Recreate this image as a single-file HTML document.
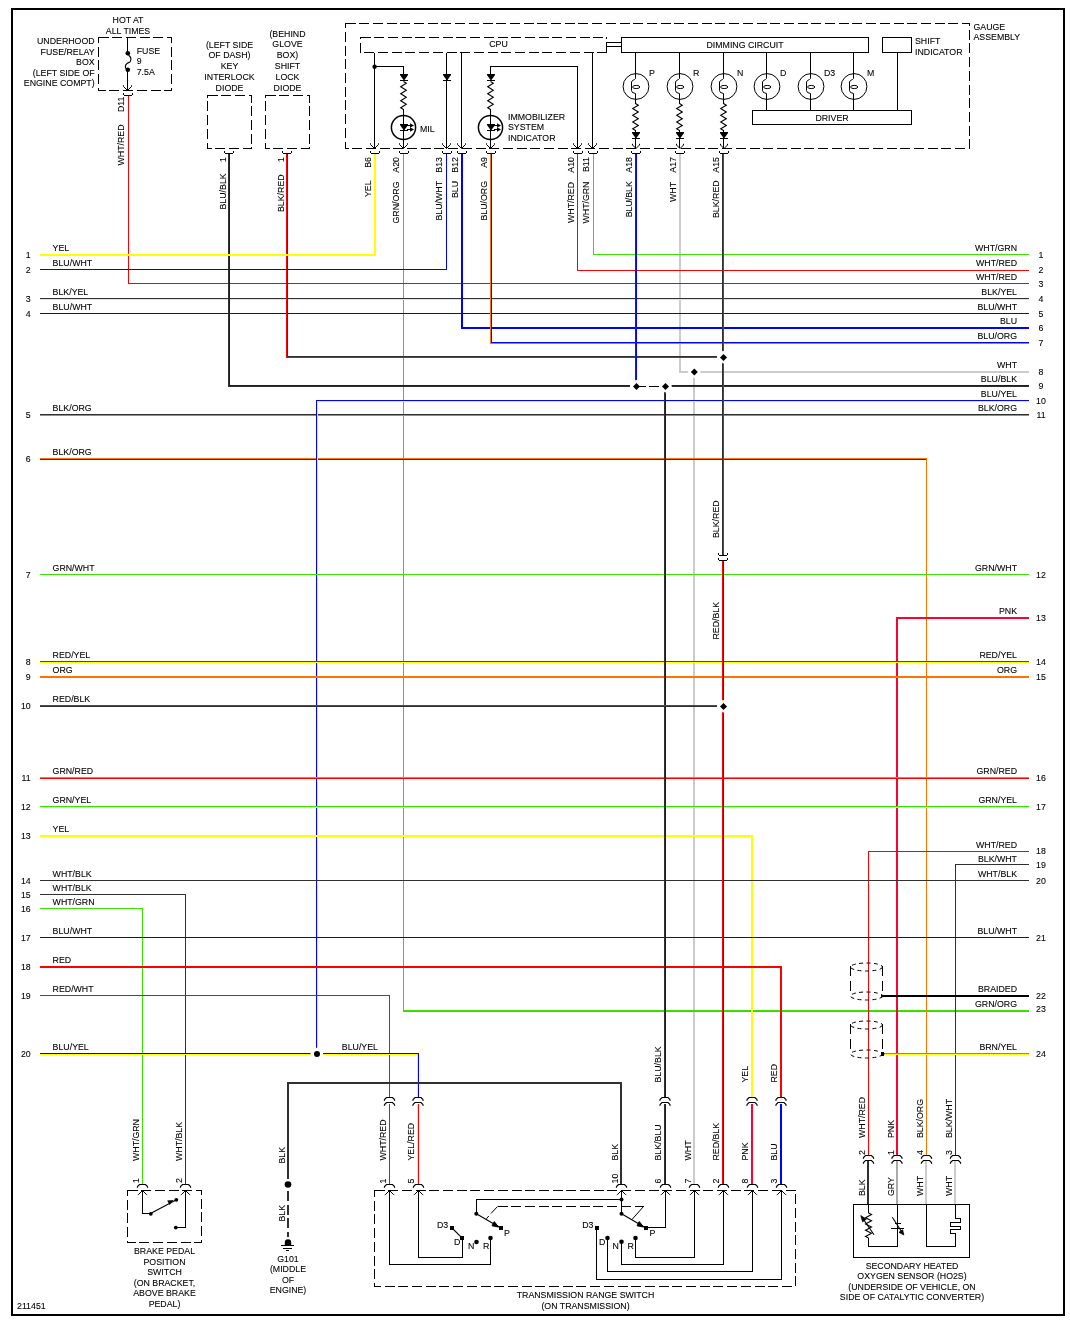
<!DOCTYPE html>
<html><head><meta charset="utf-8"><title>Wiring Diagram 211451</title>
<style>html,body{margin:0;padding:0;background:#fff}svg{display:block}text{font-family:"Liberation Sans",Arial,sans-serif;stroke:#000;stroke-width:0.1px}</style>
</head><body>
<svg width="1070" height="1326" viewBox="0 0 1070 1326" shape-rendering="crispEdges" font-family="'Liberation Sans', Arial, sans-serif" fill="#000">
<rect x="11" y="8" width="1054" height="2" fill="#000"/>
<rect x="11" y="1314" width="1054" height="2" fill="#000"/>
<rect x="11" y="8" width="2" height="1308" fill="#000"/>
<rect x="1063" y="8" width="2" height="1308" fill="#000"/>
<rect x="679" y="154" width="2" height="219" fill="#cccccc"/>
<rect x="679" y="371" width="350" height="2" fill="#cccccc"/>
<rect x="693" y="371" width="2" height="814" fill="#cccccc"/>
<rect x="403" y="154" width="1" height="857" fill="#ff7400"/>
<rect x="403" y="1011" width="626" height="1" fill="#ff7400"/>
<rect x="403" y="1010" width="626" height="1" fill="#38e400"/>
<rect x="40" y="299" width="989" height="1" fill="#ffff00"/>
<rect x="40" y="298" width="989" height="1" fill="#303030"/>
<rect x="40" y="313" width="989" height="1" fill="#0000ff"/>
<rect x="40" y="415" width="989" height="1" fill="#ff7400"/>
<rect x="40" y="414" width="989" height="1" fill="#303030"/>
<rect x="40" y="458" width="887" height="1" fill="#ff7400"/>
<rect x="40" y="459" width="886" height="1" fill="#333344"/>
<rect x="926" y="458" width="1" height="727" fill="#ff7400"/>
<rect x="317" y="401" width="712" height="1" fill="#ffff00"/>
<rect x="317" y="401" width="1" height="653" fill="#ffff00"/>
<rect x="316" y="400" width="713" height="1" fill="#0000ff"/>
<rect x="316" y="400" width="1" height="654" fill="#0000ff"/>
<rect x="40" y="574" width="989" height="1" fill="#38e400"/>
<rect x="896" y="617" width="133" height="2" fill="#ff0033"/>
<rect x="896" y="617" width="2" height="568" fill="#ff0033"/>
<rect x="40" y="662" width="989" height="1" fill="#ffff00"/>
<rect x="40" y="661" width="989" height="1" fill="#ff0000"/>
<rect x="40" y="676" width="989" height="2" fill="#ff7400"/>
<rect x="40" y="778" width="989" height="1" fill="#ff0000"/>
<rect x="40" y="777" width="989" height="1" fill="#38e400"/>
<rect x="40" y="807" width="989" height="1" fill="#ffff00"/>
<rect x="40" y="806" width="989" height="1" fill="#38e400"/>
<rect x="40" y="835" width="713" height="2" fill="#ffff00"/>
<rect x="751" y="835" width="2" height="262" fill="#ffff00"/>
<rect x="868" y="851" width="161" height="1" fill="#ff0000"/>
<rect x="868" y="851" width="1" height="334" fill="#ff0000"/>
<rect x="955" y="864" width="74" height="1" fill="#303030"/>
<rect x="955" y="864" width="1" height="321" fill="#303030"/>
<rect x="40" y="880" width="989" height="1" fill="#303030"/>
<rect x="40" y="894" width="146" height="1" fill="#303030"/>
<rect x="185" y="894" width="1" height="291" fill="#303030"/>
<rect x="40" y="908" width="103" height="1" fill="#38e400"/>
<rect x="142" y="908" width="1" height="277" fill="#38e400"/>
<rect x="40" y="937" width="989" height="1" fill="#0000ff"/>
<rect x="40" y="966" width="742" height="2" fill="#ff0000"/>
<rect x="780" y="966" width="2" height="131" fill="#ff0000"/>
<rect x="40" y="995" width="350" height="1" fill="#ff0000"/>
<rect x="389" y="995" width="1" height="102" fill="#ff0000"/>
<rect x="883" y="995" width="146" height="2" fill="#000"/>
<rect x="884" y="1054" width="145" height="1" fill="#ffff00"/>
<rect x="884" y="1053" width="145" height="1" fill="#b8860b"/>
<rect x="881" y="1052" width="3" height="4" fill="#000"/>
<rect x="40" y="1054" width="378" height="1" fill="#ffff00"/>
<rect x="417" y="1054" width="1" height="43" fill="#ffff00"/>
<rect x="40" y="1053" width="379" height="1" fill="#0000ff"/>
<rect x="418" y="1053" width="1" height="44" fill="#0000ff"/>
<rect x="620" y="1082" width="2" height="103" fill="#303030"/>
<rect x="287" y="1082" width="335" height="2" fill="#303030"/>
<rect x="287" y="1082" width="2" height="97" fill="#303030"/>
<rect x="128" y="96" width="1" height="188" fill="#ff0000"/>
<rect x="128" y="283" width="901" height="1" fill="#ff0000"/>
<rect x="228" y="154" width="1" height="233" fill="#303030"/>
<rect x="228" y="386" width="402" height="1" fill="#303030"/>
<rect x="229" y="154" width="1" height="232" fill="#0000ff"/>
<rect x="229" y="385" width="401" height="1" fill="#0000ff"/>
<rect x="671" y="386" width="358" height="1" fill="#303030"/>
<rect x="671" y="385" width="358" height="1" fill="#0000ff"/>
<rect x="286" y="154" width="1" height="204" fill="#ff0000"/>
<rect x="286" y="357" width="431" height="1" fill="#ff0000"/>
<rect x="287" y="154" width="1" height="203" fill="#303030"/>
<rect x="287" y="356" width="430" height="1" fill="#303030"/>
<rect x="374" y="154" width="2" height="102" fill="#ffff00"/>
<rect x="40" y="254" width="336" height="2" fill="#ffff00"/>
<rect x="446" y="154" width="1" height="116" fill="#0000ff"/>
<rect x="40" y="269" width="407" height="1" fill="#0000ff"/>
<rect x="461" y="154" width="2" height="175" fill="#0000ff"/>
<rect x="461" y="327" width="568" height="2" fill="#0000ff"/>
<rect x="490" y="154" width="1" height="190" fill="#ff7400"/>
<rect x="490" y="343" width="539" height="1" fill="#ff7400"/>
<rect x="491" y="154" width="1" height="189" fill="#0000ff"/>
<rect x="491" y="342" width="538" height="1" fill="#0000ff"/>
<rect x="577" y="154" width="1" height="117" fill="#ff0000"/>
<rect x="577" y="270" width="452" height="1" fill="#ff0000"/>
<rect x="593" y="154" width="1" height="101" fill="#38e400"/>
<rect x="593" y="254" width="436" height="1" fill="#38e400"/>
<rect x="635" y="154" width="1" height="227" fill="#303030"/>
<rect x="636" y="154" width="1" height="227" fill="#0000ff"/>
<rect x="664" y="392" width="1" height="705" fill="#303030"/>
<rect x="665" y="392" width="1" height="705" fill="#0000ff"/>
<rect x="664" y="1104" width="1" height="81" fill="#303030"/>
<rect x="665" y="1104" width="1" height="81" fill="#0000ff"/>
<rect x="723" y="154" width="1" height="401" fill="#ff0000"/>
<rect x="722" y="154" width="1" height="401" fill="#303030"/>
<rect x="723" y="561" width="1" height="624" fill="#303030"/>
<rect x="722" y="561" width="1" height="624" fill="#ff0000"/>
<rect x="40" y="706" width="677" height="1" fill="#303030"/>
<rect x="40" y="705" width="677" height="1" fill="#ff0000"/>
<rect x="389" y="1104" width="1" height="81" fill="#ff0000"/>
<rect x="418" y="1104" width="1" height="81" fill="#ff0000"/>
<rect x="417" y="1104" width="1" height="81" fill="#ffff00"/>
<rect x="751" y="1104" width="2" height="81" fill="#ff0033"/>
<rect x="780" y="1104" width="2" height="81" fill="#0000ff"/>
<circle cx="636.5" cy="386.2" r="6.2" fill="#fff" shape-rendering="auto"/>
<path d="M633 386.5L636.5 383L640 386.5L636.5 390Z" fill="#000" shape-rendering="auto"/>
<circle cx="665.5" cy="386.2" r="6.2" fill="#fff" shape-rendering="auto"/>
<path d="M662 386.5L665.5 383L669 386.5L665.5 390Z" fill="#000" shape-rendering="auto"/>
<circle cx="694.3" cy="371.7" r="6.2" fill="#fff" shape-rendering="auto"/>
<path d="M690.8 372L694.3 368.5L697.8 372L694.3 375.5Z" fill="#000" shape-rendering="auto"/>
<circle cx="723.5" cy="357.2" r="6.2" fill="#fff" shape-rendering="auto"/>
<path d="M720 357.5L723.5 354L727 357.5L723.5 361Z" fill="#000" shape-rendering="auto"/>
<circle cx="723.5" cy="706.2" r="6.2" fill="#fff" shape-rendering="auto"/>
<path d="M720 706.5L723.5 703L727 706.5L723.5 710Z" fill="#000" shape-rendering="auto"/>
<rect x="639" y="386" width="7" height="1" fill="#000"/>
<rect x="649" y="386" width="10" height="1" fill="#000"/>
<circle cx="316.8" cy="1054" r="6.3" fill="#fff" shape-rendering="auto"/>
<circle cx="317" cy="1054" r="3" fill="#000" shape-rendering="auto"/>
<text transform="translate(30.7 257.5) scale(0.926 1)" text-anchor="end" font-size="9.5">1</text>
<text transform="translate(52.6 251) scale(0.926 1)" text-anchor="start" font-size="9.5">YEL</text>
<text transform="translate(30.7 272.5) scale(0.926 1)" text-anchor="end" font-size="9.5">2</text>
<text transform="translate(52.6 266) scale(0.926 1)" text-anchor="start" font-size="9.5">BLU/WHT</text>
<text transform="translate(30.7 301.5) scale(0.926 1)" text-anchor="end" font-size="9.5">3</text>
<text transform="translate(52.6 295) scale(0.926 1)" text-anchor="start" font-size="9.5">BLK/YEL</text>
<text transform="translate(30.7 316.5) scale(0.926 1)" text-anchor="end" font-size="9.5">4</text>
<text transform="translate(52.6 310) scale(0.926 1)" text-anchor="start" font-size="9.5">BLU/WHT</text>
<text transform="translate(30.7 417.5) scale(0.926 1)" text-anchor="end" font-size="9.5">5</text>
<text transform="translate(52.6 411) scale(0.926 1)" text-anchor="start" font-size="9.5">BLK/ORG</text>
<text transform="translate(30.7 461.5) scale(0.926 1)" text-anchor="end" font-size="9.5">6</text>
<text transform="translate(52.6 455) scale(0.926 1)" text-anchor="start" font-size="9.5">BLK/ORG</text>
<text transform="translate(30.7 577.5) scale(0.926 1)" text-anchor="end" font-size="9.5">7</text>
<text transform="translate(52.6 571) scale(0.926 1)" text-anchor="start" font-size="9.5">GRN/WHT</text>
<text transform="translate(30.7 664.5) scale(0.926 1)" text-anchor="end" font-size="9.5">8</text>
<text transform="translate(52.6 658) scale(0.926 1)" text-anchor="start" font-size="9.5">RED/YEL</text>
<text transform="translate(30.7 679.5) scale(0.926 1)" text-anchor="end" font-size="9.5">9</text>
<text transform="translate(52.6 673) scale(0.926 1)" text-anchor="start" font-size="9.5">ORG</text>
<text transform="translate(30.7 708.5) scale(0.926 1)" text-anchor="end" font-size="9.5">10</text>
<text transform="translate(52.6 702) scale(0.926 1)" text-anchor="start" font-size="9.5">RED/BLK</text>
<text transform="translate(30.7 780.5) scale(0.926 1)" text-anchor="end" font-size="9.5">11</text>
<text transform="translate(52.6 774) scale(0.926 1)" text-anchor="start" font-size="9.5">GRN/RED</text>
<text transform="translate(30.7 809.5) scale(0.926 1)" text-anchor="end" font-size="9.5">12</text>
<text transform="translate(52.6 803) scale(0.926 1)" text-anchor="start" font-size="9.5">GRN/YEL</text>
<text transform="translate(30.7 838.5) scale(0.926 1)" text-anchor="end" font-size="9.5">13</text>
<text transform="translate(52.6 832) scale(0.926 1)" text-anchor="start" font-size="9.5">YEL</text>
<text transform="translate(30.7 883.5) scale(0.926 1)" text-anchor="end" font-size="9.5">14</text>
<text transform="translate(52.6 877) scale(0.926 1)" text-anchor="start" font-size="9.5">WHT/BLK</text>
<text transform="translate(30.7 897.5) scale(0.926 1)" text-anchor="end" font-size="9.5">15</text>
<text transform="translate(52.6 891) scale(0.926 1)" text-anchor="start" font-size="9.5">WHT/BLK</text>
<text transform="translate(30.7 911.5) scale(0.926 1)" text-anchor="end" font-size="9.5">16</text>
<text transform="translate(52.6 905) scale(0.926 1)" text-anchor="start" font-size="9.5">WHT/GRN</text>
<text transform="translate(30.7 940.5) scale(0.926 1)" text-anchor="end" font-size="9.5">17</text>
<text transform="translate(52.6 934) scale(0.926 1)" text-anchor="start" font-size="9.5">BLU/WHT</text>
<text transform="translate(30.7 969.5) scale(0.926 1)" text-anchor="end" font-size="9.5">18</text>
<text transform="translate(52.6 963) scale(0.926 1)" text-anchor="start" font-size="9.5">RED</text>
<text transform="translate(30.7 998.5) scale(0.926 1)" text-anchor="end" font-size="9.5">19</text>
<text transform="translate(52.6 992) scale(0.926 1)" text-anchor="start" font-size="9.5">RED/WHT</text>
<text transform="translate(30.7 1056.5) scale(0.926 1)" text-anchor="end" font-size="9.5">20</text>
<text transform="translate(52.6 1050) scale(0.926 1)" text-anchor="start" font-size="9.5">BLU/YEL</text>
<text transform="translate(1041 257.5) scale(0.926 1)" text-anchor="middle" font-size="9.5">1</text>
<text transform="translate(1017 251) scale(0.926 1)" text-anchor="end" font-size="9.5">WHT/GRN</text>
<text transform="translate(1041 272.5) scale(0.926 1)" text-anchor="middle" font-size="9.5">2</text>
<text transform="translate(1017 266) scale(0.926 1)" text-anchor="end" font-size="9.5">WHT/RED</text>
<text transform="translate(1041 286.5) scale(0.926 1)" text-anchor="middle" font-size="9.5">3</text>
<text transform="translate(1017 280) scale(0.926 1)" text-anchor="end" font-size="9.5">WHT/RED</text>
<text transform="translate(1041 301.5) scale(0.926 1)" text-anchor="middle" font-size="9.5">4</text>
<text transform="translate(1017 295) scale(0.926 1)" text-anchor="end" font-size="9.5">BLK/YEL</text>
<text transform="translate(1041 316.5) scale(0.926 1)" text-anchor="middle" font-size="9.5">5</text>
<text transform="translate(1017 310) scale(0.926 1)" text-anchor="end" font-size="9.5">BLU/WHT</text>
<text transform="translate(1041 330.5) scale(0.926 1)" text-anchor="middle" font-size="9.5">6</text>
<text transform="translate(1017 324) scale(0.926 1)" text-anchor="end" font-size="9.5">BLU</text>
<text transform="translate(1041 345.5) scale(0.926 1)" text-anchor="middle" font-size="9.5">7</text>
<text transform="translate(1017 339) scale(0.926 1)" text-anchor="end" font-size="9.5">BLU/ORG</text>
<text transform="translate(1041 374.5) scale(0.926 1)" text-anchor="middle" font-size="9.5">8</text>
<text transform="translate(1017 368) scale(0.926 1)" text-anchor="end" font-size="9.5">WHT</text>
<text transform="translate(1041 388.5) scale(0.926 1)" text-anchor="middle" font-size="9.5">9</text>
<text transform="translate(1017 382) scale(0.926 1)" text-anchor="end" font-size="9.5">BLU/BLK</text>
<text transform="translate(1041 403.5) scale(0.926 1)" text-anchor="middle" font-size="9.5">10</text>
<text transform="translate(1017 397) scale(0.926 1)" text-anchor="end" font-size="9.5">BLU/YEL</text>
<text transform="translate(1041 417.5) scale(0.926 1)" text-anchor="middle" font-size="9.5">11</text>
<text transform="translate(1017 411) scale(0.926 1)" text-anchor="end" font-size="9.5">BLK/ORG</text>
<text transform="translate(1041 577.5) scale(0.926 1)" text-anchor="middle" font-size="9.5">12</text>
<text transform="translate(1017 571) scale(0.926 1)" text-anchor="end" font-size="9.5">GRN/WHT</text>
<text transform="translate(1041 620.5) scale(0.926 1)" text-anchor="middle" font-size="9.5">13</text>
<text transform="translate(1017 614) scale(0.926 1)" text-anchor="end" font-size="9.5">PNK</text>
<text transform="translate(1041 664.5) scale(0.926 1)" text-anchor="middle" font-size="9.5">14</text>
<text transform="translate(1017 658) scale(0.926 1)" text-anchor="end" font-size="9.5">RED/YEL</text>
<text transform="translate(1041 679.5) scale(0.926 1)" text-anchor="middle" font-size="9.5">15</text>
<text transform="translate(1017 673) scale(0.926 1)" text-anchor="end" font-size="9.5">ORG</text>
<text transform="translate(1041 780.5) scale(0.926 1)" text-anchor="middle" font-size="9.5">16</text>
<text transform="translate(1017 774) scale(0.926 1)" text-anchor="end" font-size="9.5">GRN/RED</text>
<text transform="translate(1041 809.5) scale(0.926 1)" text-anchor="middle" font-size="9.5">17</text>
<text transform="translate(1017 803) scale(0.926 1)" text-anchor="end" font-size="9.5">GRN/YEL</text>
<text transform="translate(1041 854) scale(0.926 1)" text-anchor="middle" font-size="9.5">18</text>
<text transform="translate(1017 847.5) scale(0.926 1)" text-anchor="end" font-size="9.5">WHT/RED</text>
<text transform="translate(1041 868) scale(0.926 1)" text-anchor="middle" font-size="9.5">19</text>
<text transform="translate(1017 861.5) scale(0.926 1)" text-anchor="end" font-size="9.5">BLK/WHT</text>
<text transform="translate(1041 883.5) scale(0.926 1)" text-anchor="middle" font-size="9.5">20</text>
<text transform="translate(1017 877) scale(0.926 1)" text-anchor="end" font-size="9.5">WHT/BLK</text>
<text transform="translate(1041 940.5) scale(0.926 1)" text-anchor="middle" font-size="9.5">21</text>
<text transform="translate(1017 934) scale(0.926 1)" text-anchor="end" font-size="9.5">BLU/WHT</text>
<text transform="translate(1041 998.5) scale(0.926 1)" text-anchor="middle" font-size="9.5">22</text>
<text transform="translate(1017 992) scale(0.926 1)" text-anchor="end" font-size="9.5">BRAIDED</text>
<text transform="translate(1041 1012.2) scale(0.926 1)" text-anchor="middle" font-size="9.5">23</text>
<text transform="translate(1017 1007) scale(0.926 1)" text-anchor="end" font-size="9.5">GRN/ORG</text>
<text transform="translate(1041 1056.5) scale(0.926 1)" text-anchor="middle" font-size="9.5">24</text>
<text transform="translate(1017 1050) scale(0.926 1)" text-anchor="end" font-size="9.5">BRN/YEL</text>
<text transform="translate(341.8 1050.3) scale(0.926 1)" text-anchor="start" font-size="9.5">BLU/YEL</text>
<text transform="translate(17 1309) scale(0.926 1)" text-anchor="start" font-size="9.5">211451</text>
<path d="M98.5 37.5H171.5V90.5H98.5Z" fill="none" stroke="#000" stroke-width="1" stroke-dasharray="10 3.7" stroke-dashoffset="0"/>
<rect x="127" y="38" width="1" height="15" fill="#000"/>
<rect x="127" y="70" width="1" height="20" fill="#000"/>
<circle cx="127.8" cy="53.2" r="2.3" fill="#000" shape-rendering="auto"/>
<circle cx="127.8" cy="69.8" r="2.3" fill="#000" shape-rendering="auto"/>
<path d="M128.5 55 Q132.5 58 130 62 Q126 63.5 125.5 65.5 Q124.8 68 127 69.5" stroke="#000" stroke-width="1.1" fill="none" shape-rendering="auto"/>
<path d="M123.5 85.3V86.5L127.5 90.5L131.5 86.5V85.3" stroke="#000" stroke-width="1" fill="none" shape-rendering="auto"/>
<rect x="123" y="93" width="1" height="2" fill="#000"/>
<rect x="132" y="93" width="1" height="2" fill="#000"/>
<rect x="124" y="95" width="8" height="1" fill="#000"/>
<text transform="translate(128 22.6) scale(0.926 1)" text-anchor="middle" font-size="9.5">HOT AT</text>
<text transform="translate(128 33.8) scale(0.926 1)" text-anchor="middle" font-size="9.5">ALL TIMES</text>
<text transform="translate(94.6 44.2) scale(0.926 1)" text-anchor="end" font-size="9.5">UNDERHOOD</text>
<text transform="translate(94.6 54.75) scale(0.926 1)" text-anchor="end" font-size="9.5">FUSE/RELAY</text>
<text transform="translate(94.6 65.3) scale(0.926 1)" text-anchor="end" font-size="9.5">BOX</text>
<text transform="translate(94.6 75.85) scale(0.926 1)" text-anchor="end" font-size="9.5">(LEFT SIDE OF</text>
<text transform="translate(94.6 86.4) scale(0.926 1)" text-anchor="end" font-size="9.5">ENGINE COMPT)</text>
<text transform="translate(136.7 53.6) scale(0.926 1)" text-anchor="start" font-size="9.5">FUSE</text>
<text transform="translate(136.7 64.2) scale(0.926 1)" text-anchor="start" font-size="9.5">9</text>
<text transform="translate(136.7 74.8) scale(0.926 1)" text-anchor="start" font-size="9.5">7.5A</text>
<text transform="translate(124 112) rotate(-90) scale(0.926 1)" text-anchor="start" font-size="9.5">D11</text>
<text transform="translate(124 165.5) rotate(-90) scale(0.926 1)" text-anchor="start" font-size="9.5">WHT/RED</text>
<path d="M207.5 95.5H251.5V148.5H207.5Z" fill="none" stroke="#000" stroke-width="1" stroke-dasharray="10 3.7" stroke-dashoffset="0"/>
<path d="M265.5 95.5H309.5V148.5H265.5Z" fill="none" stroke="#000" stroke-width="1" stroke-dasharray="10 3.7" stroke-dashoffset="0"/>
<rect x="224" y="151" width="1" height="2" fill="#000"/>
<rect x="233" y="151" width="1" height="2" fill="#000"/>
<rect x="225" y="153" width="8" height="1" fill="#000"/>
<rect x="282" y="151" width="1" height="2" fill="#000"/>
<rect x="291" y="151" width="1" height="2" fill="#000"/>
<rect x="283" y="153" width="8" height="1" fill="#000"/>
<text transform="translate(229.5 47.5) scale(0.926 1)" text-anchor="middle" font-size="9.5">(LEFT SIDE</text>
<text transform="translate(229.5 58.4) scale(0.926 1)" text-anchor="middle" font-size="9.5">OF DASH)</text>
<text transform="translate(229.5 69.3) scale(0.926 1)" text-anchor="middle" font-size="9.5">KEY</text>
<text transform="translate(229.5 80.2) scale(0.926 1)" text-anchor="middle" font-size="9.5">INTERLOCK</text>
<text transform="translate(229.5 91.1) scale(0.926 1)" text-anchor="middle" font-size="9.5">DIODE</text>
<text transform="translate(287.5 36.5) scale(0.926 1)" text-anchor="middle" font-size="9.5">(BEHIND</text>
<text transform="translate(287.5 47.4) scale(0.926 1)" text-anchor="middle" font-size="9.5">GLOVE</text>
<text transform="translate(287.5 58.3) scale(0.926 1)" text-anchor="middle" font-size="9.5">BOX)</text>
<text transform="translate(287.5 69.2) scale(0.926 1)" text-anchor="middle" font-size="9.5">SHIFT</text>
<text transform="translate(287.5 80.1) scale(0.926 1)" text-anchor="middle" font-size="9.5">LOCK</text>
<text transform="translate(287.5 91) scale(0.926 1)" text-anchor="middle" font-size="9.5">DIODE</text>
<text transform="translate(226 162) rotate(-90) scale(0.926 1)" text-anchor="start" font-size="9.5">1</text>
<text transform="translate(226 209.5) rotate(-90) scale(0.926 1)" text-anchor="start" font-size="9.5">BLU/BLK</text>
<text transform="translate(284 162) rotate(-90) scale(0.926 1)" text-anchor="start" font-size="9.5">1</text>
<text transform="translate(284 212) rotate(-90) scale(0.926 1)" text-anchor="start" font-size="9.5">BLK/RED</text>
<path d="M345.5 23.5H969.5V148.5H345.5Z" fill="none" stroke="#000" stroke-width="1" stroke-dasharray="10 3.7" stroke-dashoffset="0"/>
<path d="M360.5 37.5H606.5V52.5H360.5Z" fill="none" stroke="#000" stroke-width="1" stroke-dasharray="10 3.7" stroke-dashoffset="0"/>
<text transform="translate(498.5 47.3) scale(0.926 1)" text-anchor="middle" font-size="9.5">CPU</text>
<path d="M621.5 37.5H868.5V52.5H621.5Z" fill="none" stroke="#000" stroke-width="1"/>
<text transform="translate(745 47.5) scale(0.926 1)" text-anchor="middle" font-size="9.5">DIMMING CIRCUIT</text>
<path d="M882.5 37.5H911.5V52.5H882.5Z" fill="none" stroke="#000" stroke-width="1"/>
<text transform="translate(915 44) scale(0.926 1)" text-anchor="start" font-size="9.5">SHIFT</text>
<text transform="translate(915 54.8) scale(0.926 1)" text-anchor="start" font-size="9.5">INDICATOR</text>
<path d="M752.5 110.5H911.5V124.5H752.5Z" fill="none" stroke="#000" stroke-width="1"/>
<text transform="translate(832 120.7) scale(0.926 1)" text-anchor="middle" font-size="9.5">DRIVER</text>
<text transform="translate(973.5 29.5) scale(0.926 1)" text-anchor="start" font-size="9.5">GAUGE</text>
<text transform="translate(973.5 39.8) scale(0.926 1)" text-anchor="start" font-size="9.5">ASSEMBLY</text>
<rect x="606" y="42" width="16" height="1" fill="#000"/>
<rect x="606" y="46" width="16" height="1" fill="#000"/>
<rect x="606" y="42" width="1" height="11" fill="#000"/>
<rect x="606" y="39" width="1" height="3" fill="#fff"/>
<rect x="606" y="37" width="1" height="2" fill="#000"/>
<rect x="374" y="53" width="1" height="95" fill="#000"/>
<path d="M370.5 143.3V144.5L374.5 148.5L378.5 144.5V143.3" stroke="#000" stroke-width="1" fill="none" shape-rendering="auto"/>
<rect x="370" y="151" width="1" height="2" fill="#000"/>
<rect x="379" y="151" width="1" height="2" fill="#000"/>
<rect x="371" y="153" width="8" height="1" fill="#000"/>
<circle cx="374.6" cy="66.8" r="2.2" fill="#000" shape-rendering="auto"/>
<rect x="374" y="66" width="30" height="1" fill="#000"/>
<rect x="403" y="66" width="1" height="9" fill="#000"/>
<path d="M400 74H408V75L404.5 80H403.5L400 75Z" fill="#000" shape-rendering="auto"/>
<rect x="400" y="80" width="8" height="1" fill="#000"/>
<path d="M403.5 81.5L406.3 83.25L400.7 86.75L406.3 90.25L400.7 93.75L406.3 97.25L400.7 100.75L406.3 104.25L400.7 107.75L403.5 109.5" stroke="#000" stroke-width="1.1" fill="none" shape-rendering="auto"/>
<rect x="403" y="109" width="1" height="39" fill="#000"/>
<circle cx="403.5" cy="127.5" r="12.1" fill="none" stroke="#000" stroke-width="1.5" shape-rendering="auto"/>
<path d="M400 124H408V125L404.5 130H403.5L400 125Z" fill="#000" shape-rendering="auto"/>
<rect x="400" y="130" width="8" height="1" fill="#000"/>
<rect x="407" y="125" width="4" height="1" fill="#000"/>
<path d="M410 123.3L414 125.5L410 127.7Z" fill="#000" shape-rendering="auto"/>
<rect x="407" y="129" width="4" height="1" fill="#000"/>
<path d="M410 127.3L414 129.5L410 131.7Z" fill="#000" shape-rendering="auto"/>
<path d="M399.5 143.3V144.5L403.5 148.5L407.5 144.5V143.3" stroke="#000" stroke-width="1" fill="none" shape-rendering="auto"/>
<rect x="399" y="151" width="1" height="2" fill="#000"/>
<rect x="408" y="151" width="1" height="2" fill="#000"/>
<rect x="400" y="153" width="8" height="1" fill="#000"/>
<text transform="translate(420 131.8) scale(0.926 1)" text-anchor="start" font-size="9.5">MIL</text>
<rect x="446" y="53" width="1" height="95" fill="#000"/>
<path d="M443 74H451V75L447.5 80H446.5L443 75Z" fill="#000" shape-rendering="auto"/>
<rect x="443" y="80" width="8" height="1" fill="#000"/>
<path d="M442.5 143.3V144.5L446.5 148.5L450.5 144.5V143.3" stroke="#000" stroke-width="1" fill="none" shape-rendering="auto"/>
<rect x="442" y="151" width="1" height="2" fill="#000"/>
<rect x="451" y="151" width="1" height="2" fill="#000"/>
<rect x="443" y="153" width="8" height="1" fill="#000"/>
<rect x="461" y="53" width="1" height="95" fill="#000"/>
<path d="M457.5 143.3V144.5L461.5 148.5L465.5 144.5V143.3" stroke="#000" stroke-width="1" fill="none" shape-rendering="auto"/>
<rect x="457" y="151" width="1" height="2" fill="#000"/>
<rect x="466" y="151" width="1" height="2" fill="#000"/>
<rect x="458" y="153" width="8" height="1" fill="#000"/>
<rect x="490" y="66" width="88" height="1" fill="#000"/>
<rect x="490" y="66" width="1" height="9" fill="#000"/>
<rect x="577" y="66" width="1" height="82" fill="#000"/>
<path d="M487 74H495V75L491.5 80H490.5L487 75Z" fill="#000" shape-rendering="auto"/>
<rect x="487" y="80" width="8" height="1" fill="#000"/>
<path d="M490.5 81.5L493.3 83.25L487.7 86.75L493.3 90.25L487.7 93.75L493.3 97.25L487.7 100.75L493.3 104.25L487.7 107.75L490.5 109.5" stroke="#000" stroke-width="1.1" fill="none" shape-rendering="auto"/>
<rect x="490" y="109" width="1" height="39" fill="#000"/>
<circle cx="490.5" cy="127.5" r="12.1" fill="none" stroke="#000" stroke-width="1.5" shape-rendering="auto"/>
<path d="M487 124H495V125L491.5 130H490.5L487 125Z" fill="#000" shape-rendering="auto"/>
<rect x="487" y="130" width="8" height="1" fill="#000"/>
<rect x="494" y="125" width="4" height="1" fill="#000"/>
<path d="M497 123.3L501 125.5L497 127.7Z" fill="#000" shape-rendering="auto"/>
<rect x="494" y="129" width="4" height="1" fill="#000"/>
<path d="M497 127.3L501 129.5L497 131.7Z" fill="#000" shape-rendering="auto"/>
<path d="M486.5 143.3V144.5L490.5 148.5L494.5 144.5V143.3" stroke="#000" stroke-width="1" fill="none" shape-rendering="auto"/>
<rect x="486" y="151" width="1" height="2" fill="#000"/>
<rect x="495" y="151" width="1" height="2" fill="#000"/>
<rect x="487" y="153" width="8" height="1" fill="#000"/>
<text transform="translate(508 119.8) scale(0.926 1)" text-anchor="start" font-size="9.5">IMMOBILIZER</text>
<text transform="translate(508 130.2) scale(0.926 1)" text-anchor="start" font-size="9.5">SYSTEM</text>
<text transform="translate(508 140.6) scale(0.926 1)" text-anchor="start" font-size="9.5">INDICATOR</text>
<path d="M573.5 143.3V144.5L577.5 148.5L581.5 144.5V143.3" stroke="#000" stroke-width="1" fill="none" shape-rendering="auto"/>
<rect x="573" y="151" width="1" height="2" fill="#000"/>
<rect x="582" y="151" width="1" height="2" fill="#000"/>
<rect x="574" y="153" width="8" height="1" fill="#000"/>
<rect x="592" y="53" width="1" height="95" fill="#000"/>
<path d="M588.5 143.3V144.5L592.5 148.5L596.5 144.5V143.3" stroke="#000" stroke-width="1" fill="none" shape-rendering="auto"/>
<rect x="588" y="151" width="1" height="2" fill="#000"/>
<rect x="597" y="151" width="1" height="2" fill="#000"/>
<rect x="589" y="153" width="8" height="1" fill="#000"/>
<rect x="635" y="53" width="1" height="21" fill="#000"/>
<circle cx="636" cy="86.5" r="12.9" fill="none" stroke="#000" stroke-width="1" shape-rendering="auto"/>
<path d="M635.5 73V78.5L634.5 79.5L632.5 80.5L631.5 82V90.5L632.5 92.5L635.5 93.5V100" stroke="#000" stroke-width="1" fill="none" shape-rendering="auto"/>
<ellipse cx="636.2" cy="87" rx="3.6" ry="1.6" fill="none" stroke="#000" stroke-width="1" shape-rendering="auto"/>
<text transform="translate(649 76) scale(0.926 1)" text-anchor="start" font-size="9.5">P</text>
<rect x="679" y="53" width="1" height="21" fill="#000"/>
<circle cx="680" cy="86.5" r="12.9" fill="none" stroke="#000" stroke-width="1" shape-rendering="auto"/>
<path d="M679.5 73V78.5L678.5 79.5L676.5 80.5L675.5 82V90.5L676.5 92.5L679.5 93.5V100" stroke="#000" stroke-width="1" fill="none" shape-rendering="auto"/>
<ellipse cx="680.2" cy="87" rx="3.6" ry="1.6" fill="none" stroke="#000" stroke-width="1" shape-rendering="auto"/>
<text transform="translate(693 76) scale(0.926 1)" text-anchor="start" font-size="9.5">R</text>
<rect x="723" y="53" width="1" height="21" fill="#000"/>
<circle cx="724" cy="86.5" r="12.9" fill="none" stroke="#000" stroke-width="1" shape-rendering="auto"/>
<path d="M723.5 73V78.5L722.5 79.5L720.5 80.5L719.5 82V90.5L720.5 92.5L723.5 93.5V100" stroke="#000" stroke-width="1" fill="none" shape-rendering="auto"/>
<ellipse cx="724.2" cy="87" rx="3.6" ry="1.6" fill="none" stroke="#000" stroke-width="1" shape-rendering="auto"/>
<text transform="translate(737 76) scale(0.926 1)" text-anchor="start" font-size="9.5">N</text>
<rect x="766" y="53" width="1" height="21" fill="#000"/>
<circle cx="767" cy="86.5" r="12.9" fill="none" stroke="#000" stroke-width="1" shape-rendering="auto"/>
<path d="M766.5 73V78.5L765.5 79.5L763.5 80.5L762.5 82V90.5L763.5 92.5L766.5 93.5V100" stroke="#000" stroke-width="1" fill="none" shape-rendering="auto"/>
<ellipse cx="767.2" cy="87" rx="3.6" ry="1.6" fill="none" stroke="#000" stroke-width="1" shape-rendering="auto"/>
<text transform="translate(780 76) scale(0.926 1)" text-anchor="start" font-size="9.5">D</text>
<rect x="810" y="53" width="1" height="21" fill="#000"/>
<circle cx="811" cy="86.5" r="12.9" fill="none" stroke="#000" stroke-width="1" shape-rendering="auto"/>
<path d="M810.5 73V78.5L809.5 79.5L807.5 80.5L806.5 82V90.5L807.5 92.5L810.5 93.5V100" stroke="#000" stroke-width="1" fill="none" shape-rendering="auto"/>
<ellipse cx="811.2" cy="87" rx="3.6" ry="1.6" fill="none" stroke="#000" stroke-width="1" shape-rendering="auto"/>
<text transform="translate(824 76) scale(0.926 1)" text-anchor="start" font-size="9.5">D3</text>
<rect x="853" y="53" width="1" height="21" fill="#000"/>
<circle cx="854" cy="86.5" r="12.9" fill="none" stroke="#000" stroke-width="1" shape-rendering="auto"/>
<path d="M853.5 73V78.5L852.5 79.5L850.5 80.5L849.5 82V90.5L850.5 92.5L853.5 93.5V100" stroke="#000" stroke-width="1" fill="none" shape-rendering="auto"/>
<ellipse cx="854.2" cy="87" rx="3.6" ry="1.6" fill="none" stroke="#000" stroke-width="1" shape-rendering="auto"/>
<text transform="translate(867 76) scale(0.926 1)" text-anchor="start" font-size="9.5">M</text>
<rect x="635" y="99" width="1" height="5" fill="#000"/>
<path d="M635.5 103.5L638.3 105.188L632.7 108.562L638.3 111.938L632.7 115.312L638.3 118.688L632.7 122.062L638.3 125.438L632.7 128.812L635.5 130.5" stroke="#000" stroke-width="1.1" fill="none" shape-rendering="auto"/>
<rect x="635" y="130" width="1" height="18" fill="#000"/>
<path d="M632 132H640V133L636.5 138H635.5L632 133Z" fill="#000" shape-rendering="auto"/>
<rect x="632" y="138" width="8" height="1" fill="#000"/>
<path d="M632.5 143.8V145L636 148.5L639.5 145V143.8" stroke="#000" stroke-width="1" fill="none" shape-rendering="auto"/>
<rect x="631" y="151" width="1" height="2" fill="#000"/>
<rect x="640" y="151" width="1" height="2" fill="#000"/>
<rect x="632" y="153" width="8" height="1" fill="#000"/>
<rect x="679" y="99" width="1" height="5" fill="#000"/>
<path d="M679.5 103.5L682.3 105.188L676.7 108.562L682.3 111.938L676.7 115.312L682.3 118.688L676.7 122.062L682.3 125.438L676.7 128.812L679.5 130.5" stroke="#000" stroke-width="1.1" fill="none" shape-rendering="auto"/>
<rect x="679" y="130" width="1" height="18" fill="#000"/>
<path d="M676 132H684V133L680.5 138H679.5L676 133Z" fill="#000" shape-rendering="auto"/>
<rect x="676" y="138" width="8" height="1" fill="#000"/>
<path d="M676.5 143.8V145L680 148.5L683.5 145V143.8" stroke="#000" stroke-width="1" fill="none" shape-rendering="auto"/>
<rect x="675" y="151" width="1" height="2" fill="#000"/>
<rect x="684" y="151" width="1" height="2" fill="#000"/>
<rect x="676" y="153" width="8" height="1" fill="#000"/>
<rect x="723" y="99" width="1" height="5" fill="#000"/>
<path d="M723.5 103.5L726.3 105.188L720.7 108.562L726.3 111.938L720.7 115.312L726.3 118.688L720.7 122.062L726.3 125.438L720.7 128.812L723.5 130.5" stroke="#000" stroke-width="1.1" fill="none" shape-rendering="auto"/>
<rect x="723" y="130" width="1" height="18" fill="#000"/>
<path d="M720 132H728V133L724.5 138H723.5L720 133Z" fill="#000" shape-rendering="auto"/>
<rect x="720" y="138" width="8" height="1" fill="#000"/>
<path d="M720.5 143.8V145L724 148.5L727.5 145V143.8" stroke="#000" stroke-width="1" fill="none" shape-rendering="auto"/>
<rect x="719" y="151" width="1" height="2" fill="#000"/>
<rect x="728" y="151" width="1" height="2" fill="#000"/>
<rect x="720" y="153" width="8" height="1" fill="#000"/>
<rect x="766" y="99" width="1" height="12" fill="#000"/>
<rect x="810" y="99" width="1" height="12" fill="#000"/>
<rect x="853" y="99" width="1" height="12" fill="#000"/>
<rect x="897" y="53" width="1" height="58" fill="#000"/>
<text transform="translate(371 157) rotate(-90) scale(0.926 1)" text-anchor="end" font-size="9.5">B6</text>
<text transform="translate(371 197) rotate(-90) scale(0.926 1)" text-anchor="start" font-size="9.5">YEL</text>
<text transform="translate(398.8 157) rotate(-90) scale(0.926 1)" text-anchor="end" font-size="9.5">A20</text>
<text transform="translate(398.8 223.5) rotate(-90) scale(0.926 1)" text-anchor="start" font-size="9.5">GRN/ORG</text>
<text transform="translate(441.7 157) rotate(-90) scale(0.926 1)" text-anchor="end" font-size="9.5">B13</text>
<text transform="translate(441.7 220.5) rotate(-90) scale(0.926 1)" text-anchor="start" font-size="9.5">BLU/WHT</text>
<text transform="translate(458.2 157) rotate(-90) scale(0.926 1)" text-anchor="end" font-size="9.5">B12</text>
<text transform="translate(458.2 198) rotate(-90) scale(0.926 1)" text-anchor="start" font-size="9.5">BLU</text>
<text transform="translate(487 157) rotate(-90) scale(0.926 1)" text-anchor="end" font-size="9.5">A9</text>
<text transform="translate(487 220.5) rotate(-90) scale(0.926 1)" text-anchor="start" font-size="9.5">BLU/ORG</text>
<text transform="translate(573.5 157) rotate(-90) scale(0.926 1)" text-anchor="end" font-size="9.5">A10</text>
<text transform="translate(573.5 223) rotate(-90) scale(0.926 1)" text-anchor="start" font-size="9.5">WHT/RED</text>
<text transform="translate(589 157) rotate(-90) scale(0.926 1)" text-anchor="end" font-size="9.5">B11</text>
<text transform="translate(589 223.5) rotate(-90) scale(0.926 1)" text-anchor="start" font-size="9.5">WHT/GRN</text>
<text transform="translate(632 157) rotate(-90) scale(0.926 1)" text-anchor="end" font-size="9.5">A18</text>
<text transform="translate(632 217.3) rotate(-90) scale(0.926 1)" text-anchor="start" font-size="9.5">BLU/BLK</text>
<text transform="translate(675.5 157) rotate(-90) scale(0.926 1)" text-anchor="end" font-size="9.5">A17</text>
<text transform="translate(675.5 202) rotate(-90) scale(0.926 1)" text-anchor="start" font-size="9.5">WHT</text>
<text transform="translate(719 157) rotate(-90) scale(0.926 1)" text-anchor="end" font-size="9.5">A15</text>
<text transform="translate(719 218) rotate(-90) scale(0.926 1)" text-anchor="start" font-size="9.5">BLK/RED</text>
<rect x="387.5" y="1097" width="4" height="6" fill="#fff"/>
<path d="M384.2 1100.8L384.7 1099.4L386.5 1097.5H392.5L394.3 1099.4L394.8 1100.8" stroke="#000" stroke-width="1.15" fill="none" shape-rendering="auto"/>
<path d="M384.2 1105.8L384.7 1104.4L386.5 1102.5H392.5L394.3 1104.4L394.8 1105.8" stroke="#000" stroke-width="1.15" fill="none" shape-rendering="auto"/>
<rect x="416" y="1097" width="4" height="6" fill="#fff"/>
<path d="M412.7 1100.8L413.2 1099.4L415 1097.5H421L422.8 1099.4L423.3 1100.8" stroke="#000" stroke-width="1.15" fill="none" shape-rendering="auto"/>
<path d="M412.7 1105.8L413.2 1104.4L415 1102.5H421L422.8 1104.4L423.3 1105.8" stroke="#000" stroke-width="1.15" fill="none" shape-rendering="auto"/>
<rect x="663" y="1097" width="4" height="6" fill="#fff"/>
<path d="M659.7 1100.8L660.2 1099.4L662 1097.5H668L669.8 1099.4L670.3 1100.8" stroke="#000" stroke-width="1.15" fill="none" shape-rendering="auto"/>
<path d="M659.7 1105.8L660.2 1104.4L662 1102.5H668L669.8 1104.4L670.3 1105.8" stroke="#000" stroke-width="1.15" fill="none" shape-rendering="auto"/>
<rect x="750" y="1097" width="4" height="6" fill="#fff"/>
<path d="M746.7 1100.8L747.2 1099.4L749 1097.5H755L756.8 1099.4L757.3 1100.8" stroke="#000" stroke-width="1.15" fill="none" shape-rendering="auto"/>
<path d="M746.7 1105.8L747.2 1104.4L749 1102.5H755L756.8 1104.4L757.3 1105.8" stroke="#000" stroke-width="1.15" fill="none" shape-rendering="auto"/>
<rect x="779" y="1097" width="4" height="6" fill="#fff"/>
<path d="M775.7 1100.8L776.2 1099.4L778 1097.5H784L785.8 1099.4L786.3 1100.8" stroke="#000" stroke-width="1.15" fill="none" shape-rendering="auto"/>
<path d="M775.7 1105.8L776.2 1104.4L778 1102.5H784L785.8 1104.4L786.3 1105.8" stroke="#000" stroke-width="1.15" fill="none" shape-rendering="auto"/>
<rect x="720" y="555" width="6" height="6" fill="#fff"/>
<rect x="718" y="553" width="1" height="2" fill="#000"/>
<rect x="727" y="553" width="1" height="2" fill="#000"/>
<rect x="719" y="555" width="8" height="1" fill="#000"/>
<rect x="718" y="558" width="1" height="2" fill="#000"/>
<rect x="727" y="558" width="1" height="2" fill="#000"/>
<rect x="719" y="560" width="8" height="1" fill="#000"/>
<rect x="866" y="1155" width="5" height="6" fill="#fff"/>
<path d="M863.2 1158.8L863.7 1157.4L865.5 1155.5H871.5L873.3 1157.4L873.8 1158.8" stroke="#000" stroke-width="1.15" fill="none" shape-rendering="auto"/>
<path d="M863.2 1163.8L863.7 1162.4L865.5 1160.5H871.5L873.3 1162.4L873.8 1163.8" stroke="#000" stroke-width="1.15" fill="none" shape-rendering="auto"/>
<rect x="894.5" y="1155" width="5" height="6" fill="#fff"/>
<path d="M891.7 1158.8L892.2 1157.4L894 1155.5H900L901.8 1157.4L902.3 1158.8" stroke="#000" stroke-width="1.15" fill="none" shape-rendering="auto"/>
<path d="M891.7 1163.8L892.2 1162.4L894 1160.5H900L901.8 1162.4L902.3 1163.8" stroke="#000" stroke-width="1.15" fill="none" shape-rendering="auto"/>
<rect x="924" y="1155" width="5" height="6" fill="#fff"/>
<path d="M921.2 1158.8L921.7 1157.4L923.5 1155.5H929.5L931.3 1157.4L931.8 1158.8" stroke="#000" stroke-width="1.15" fill="none" shape-rendering="auto"/>
<path d="M921.2 1163.8L921.7 1162.4L923.5 1160.5H929.5L931.3 1162.4L931.8 1163.8" stroke="#000" stroke-width="1.15" fill="none" shape-rendering="auto"/>
<rect x="953" y="1155" width="5" height="6" fill="#fff"/>
<path d="M950.2 1158.8L950.7 1157.4L952.5 1155.5H958.5L960.3 1157.4L960.8 1158.8" stroke="#000" stroke-width="1.15" fill="none" shape-rendering="auto"/>
<path d="M950.2 1163.8L950.7 1162.4L952.5 1160.5H958.5L960.3 1162.4L960.8 1163.8" stroke="#000" stroke-width="1.15" fill="none" shape-rendering="auto"/>
<rect x="867" y="1160.5" width="2" height="43.5" fill="#303030"/>
<rect x="896" y="1160.5" width="2" height="43.5" fill="#aaaaaa"/>
<rect x="925" y="1160.5" width="2" height="43.5" fill="#cccccc"/>
<rect x="954" y="1160.5" width="2" height="43.5" fill="#cccccc"/>
<path d="M853.5 1204.5H969.5V1257.5H853.5Z" fill="none" stroke="#000" stroke-width="1"/>
<path d="M868.5 1213L871.5 1214.56L865.5 1217.69L871.5 1220.81L865.5 1223.94L871.5 1227.06L865.5 1230.19L871.5 1233.31L865.5 1236.44L868.5 1238" stroke="#000" stroke-width="1.1" fill="none" shape-rendering="auto"/>
<path d="M868.5 1204V1213M868.5 1238V1246.5H897.5V1204" stroke="#000" stroke-width="1" fill="none" shape-rendering="crispEdges"/>
<path d="M862 1217.3L874 1234.7" stroke="#000" stroke-width="1.1" fill="none" shape-rendering="auto"/>
<path d="M860.8 1215.6L866.3 1219.2L862.6 1221.8Z" fill="#000" stroke="#000" stroke-width="0.8" shape-rendering="auto"/>
<path d="M895 1223.5H901" stroke="#000" stroke-width="1" fill="none" shape-rendering="auto"/>
<path d="M891 1228.5H904" stroke="#000" stroke-width="1" fill="none" shape-rendering="auto"/>
<path d="M892.3 1217.3L902.5 1233" stroke="#000" stroke-width="1.1" fill="none" shape-rendering="auto"/>
<path d="M903.8 1235L899 1232.3L902.6 1229.8Z" fill="#000" stroke="#000" stroke-width="0.8" shape-rendering="auto"/>
<path d="M926.5 1204V1246.5H955.5V1233.5H950.5V1229.5H960.5V1226.5H950.5V1222.5H960.5V1218.5H955.5V1204" stroke="#000" stroke-width="1" fill="none" shape-rendering="crispEdges"/>
<text transform="translate(912 1268.6) scale(0.926 1)" text-anchor="middle" font-size="9.5">SECONDARY HEATED</text>
<text transform="translate(912 1279.1) scale(0.926 1)" text-anchor="middle" font-size="9.5">OXYGEN SENSOR (HO2S)</text>
<text transform="translate(912 1289.6) scale(0.926 1)" text-anchor="middle" font-size="9.5">(UNDERSIDE OF VEHICLE, ON</text>
<text transform="translate(912 1300.1) scale(0.926 1)" text-anchor="middle" font-size="9.5">SIDE OF CATALYTIC CONVERTER)</text>
<text transform="translate(865 1138) rotate(-90) scale(0.926 1)" text-anchor="start" font-size="9.5">WHT/RED</text>
<text transform="translate(865 1196) rotate(-90) scale(0.926 1)" text-anchor="start" font-size="9.5">BLK</text>
<text transform="translate(865 1155) rotate(-90) scale(0.926 1)" text-anchor="start" font-size="9.5">2</text>
<text transform="translate(893.5 1138) rotate(-90) scale(0.926 1)" text-anchor="start" font-size="9.5">PNK</text>
<text transform="translate(893.5 1196) rotate(-90) scale(0.926 1)" text-anchor="start" font-size="9.5">GRY</text>
<text transform="translate(893.5 1155) rotate(-90) scale(0.926 1)" text-anchor="start" font-size="9.5">1</text>
<text transform="translate(922.5 1138) rotate(-90) scale(0.926 1)" text-anchor="start" font-size="9.5">BLK/ORG</text>
<text transform="translate(922.5 1196) rotate(-90) scale(0.926 1)" text-anchor="start" font-size="9.5">WHT</text>
<text transform="translate(922.5 1155) rotate(-90) scale(0.926 1)" text-anchor="start" font-size="9.5">4</text>
<text transform="translate(951.5 1138) rotate(-90) scale(0.926 1)" text-anchor="start" font-size="9.5">BLK/WHT</text>
<text transform="translate(951.5 1196) rotate(-90) scale(0.926 1)" text-anchor="start" font-size="9.5">WHT</text>
<text transform="translate(951.5 1155) rotate(-90) scale(0.926 1)" text-anchor="start" font-size="9.5">3</text>
<ellipse cx="866.5" cy="967" rx="16" ry="4" fill="none" stroke="#000" stroke-width="1" stroke-dasharray="4 3.3" shape-rendering="auto"/>
<ellipse cx="866.5" cy="996" rx="16" ry="4" fill="none" stroke="#000" stroke-width="1" stroke-dasharray="4 3.3" shape-rendering="auto"/>
<line x1="850.5" y1="966" x2="850.5" y2="992" stroke="#000" stroke-width="1" stroke-dasharray="10 4.5"/>
<line x1="882.5" y1="966" x2="882.5" y2="992" stroke="#000" stroke-width="1" stroke-dasharray="10 4.5"/>
<path d="M881 994L885 996L881 998Z" fill="#000" shape-rendering="auto"/>
<ellipse cx="866.5" cy="1025" rx="16" ry="4" fill="none" stroke="#000" stroke-width="1" stroke-dasharray="4 3.3" shape-rendering="auto"/>
<ellipse cx="866.5" cy="1054" rx="16" ry="4" fill="none" stroke="#000" stroke-width="1" stroke-dasharray="4 3.3" shape-rendering="auto"/>
<line x1="850.5" y1="1024" x2="850.5" y2="1050" stroke="#000" stroke-width="1" stroke-dasharray="10 4.5"/>
<line x1="882.5" y1="1024" x2="882.5" y2="1050" stroke="#000" stroke-width="1" stroke-dasharray="10 4.5"/>
<path d="M881 1052L885 1054L881 1056Z" fill="#000" shape-rendering="auto"/>
<path d="M127.5 1190.5H201.5V1242.5H127.5Z" fill="none" stroke="#000" stroke-width="1" stroke-dasharray="10 3.7" stroke-dashoffset="0"/>
<path d="M137.2 1187.8L137.7 1186.4L139.5 1184.5H145.5L147.3 1186.4L147.8 1187.8" stroke="#000" stroke-width="1.15" fill="none" shape-rendering="auto"/>
<path d="M180.2 1187.8L180.7 1186.4L182.5 1184.5H188.5L190.3 1186.4L190.8 1187.8" stroke="#000" stroke-width="1.15" fill="none" shape-rendering="auto"/>
<path d="M137.8 1194.8L138.5 1194.5L142.5 1190.5L146.5 1194.5L147.2 1194.8" stroke="#000" stroke-width="1" fill="none" shape-rendering="auto"/>
<path d="M180.8 1194.8L181.5 1194.5L185.5 1190.5L189.5 1194.5L190.2 1194.8" stroke="#000" stroke-width="1" fill="none" shape-rendering="auto"/>
<path d="M142.5 1191V1213.5H150.5" stroke="#000" stroke-width="1" fill="none" shape-rendering="crispEdges"/>
<path d="M150.5 1213.5L176 1200" stroke="#000" stroke-width="1.1" fill="none" shape-rendering="auto"/>
<path d="M185.5 1191V1227.5H176" stroke="#000" stroke-width="1" fill="none" shape-rendering="crispEdges"/>
<circle cx="150.8" cy="1213.8" r="1.9" fill="#000" shape-rendering="auto"/>
<circle cx="176.3" cy="1199.8" r="1.9" fill="#000" shape-rendering="auto"/>
<circle cx="175.8" cy="1227.6" r="1.9" fill="#000" shape-rendering="auto"/>
<path d="M173.5 1200L167.2 1200.5L169.6 1205Z" fill="#000" shape-rendering="auto"/>
<text transform="translate(164.5 1254) scale(0.926 1)" text-anchor="middle" font-size="9.5">BRAKE PEDAL</text>
<text transform="translate(164.5 1264.5) scale(0.926 1)" text-anchor="middle" font-size="9.5">POSITION</text>
<text transform="translate(164.5 1275) scale(0.926 1)" text-anchor="middle" font-size="9.5">SWITCH</text>
<text transform="translate(164.5 1285.5) scale(0.926 1)" text-anchor="middle" font-size="9.5">(ON BRACKET,</text>
<text transform="translate(164.5 1296) scale(0.926 1)" text-anchor="middle" font-size="9.5">ABOVE BRAKE</text>
<text transform="translate(164.5 1306.5) scale(0.926 1)" text-anchor="middle" font-size="9.5">PEDAL)</text>
<text transform="translate(138.5 1161) rotate(-90) scale(0.926 1)" text-anchor="start" font-size="9.5">WHT/GRN</text>
<text transform="translate(182 1161) rotate(-90) scale(0.926 1)" text-anchor="start" font-size="9.5">WHT/BLK</text>
<text transform="translate(138.5 1183) rotate(-90) scale(0.926 1)" text-anchor="start" font-size="9.5">1</text>
<text transform="translate(182 1183) rotate(-90) scale(0.926 1)" text-anchor="start" font-size="9.5">2</text>
<rect x="286" y="1179" width="4" height="12" fill="#fff"/>
<circle cx="288" cy="1184.5" r="3.3" fill="#000" shape-rendering="auto"/>
<rect x="287" y="1191" width="2" height="10" fill="#303030"/>
<rect x="287" y="1205" width="2" height="10" fill="#303030"/>
<rect x="287" y="1218" width="2" height="10" fill="#303030"/>
<rect x="287" y="1232" width="2" height="5" fill="#303030"/>
<path d="M284.8 1245V1242.5Q284.8 1239.3 288 1239.3Q291.2 1239.3 291.2 1242.5V1245Z" fill="#000" shape-rendering="auto"/>
<rect x="281" y="1245" width="13" height="1" fill="#000"/>
<rect x="283" y="1248" width="9" height="1" fill="#000"/>
<rect x="286" y="1250" width="3" height="1" fill="#000"/>
<text transform="translate(288 1261.5) scale(0.926 1)" text-anchor="middle" font-size="9.5">G101</text>
<text transform="translate(288 1272.1) scale(0.926 1)" text-anchor="middle" font-size="9.5">(MIDDLE</text>
<text transform="translate(288 1282.7) scale(0.926 1)" text-anchor="middle" font-size="9.5">OF</text>
<text transform="translate(288 1293.3) scale(0.926 1)" text-anchor="middle" font-size="9.5">ENGINE)</text>
<text transform="translate(284.5 1163.5) rotate(-90) scale(0.926 1)" text-anchor="start" font-size="9.5">BLK</text>
<text transform="translate(284.5 1221.5) rotate(-90) scale(0.926 1)" text-anchor="start" font-size="9.5">BLK</text>
<path d="M374.5 1190.5H795.5V1286.5H374.5Z" fill="none" stroke="#000" stroke-width="1" stroke-dasharray="10 3.7" stroke-dashoffset="0"/>
<path d="M384.2 1187.8L384.7 1186.4L386.5 1184.5H392.5L394.3 1186.4L394.8 1187.8" stroke="#000" stroke-width="1.15" fill="none" shape-rendering="auto"/>
<path d="M384.8 1194.8L385.5 1194.5L389.5 1190.5L393.5 1194.5L394.2 1194.8" stroke="#000" stroke-width="1" fill="none" shape-rendering="auto"/>
<path d="M413.2 1187.8L413.7 1186.4L415.5 1184.5H421.5L423.3 1186.4L423.8 1187.8" stroke="#000" stroke-width="1.15" fill="none" shape-rendering="auto"/>
<path d="M413.8 1194.8L414.5 1194.5L418.5 1190.5L422.5 1194.5L423.2 1194.8" stroke="#000" stroke-width="1" fill="none" shape-rendering="auto"/>
<path d="M616.2 1187.8L616.7 1186.4L618.5 1184.5H624.5L626.3 1186.4L626.8 1187.8" stroke="#000" stroke-width="1.15" fill="none" shape-rendering="auto"/>
<path d="M616.8 1194.8L617.5 1194.5L621.5 1190.5L625.5 1194.5L626.2 1194.8" stroke="#000" stroke-width="1" fill="none" shape-rendering="auto"/>
<path d="M660.2 1187.8L660.7 1186.4L662.5 1184.5H668.5L670.3 1186.4L670.8 1187.8" stroke="#000" stroke-width="1.15" fill="none" shape-rendering="auto"/>
<path d="M660.8 1194.8L661.5 1194.5L665.5 1190.5L669.5 1194.5L670.2 1194.8" stroke="#000" stroke-width="1" fill="none" shape-rendering="auto"/>
<path d="M689.2 1187.8L689.7 1186.4L691.5 1184.5H697.5L699.3 1186.4L699.8 1187.8" stroke="#000" stroke-width="1.15" fill="none" shape-rendering="auto"/>
<path d="M689.8 1194.8L690.5 1194.5L694.5 1190.5L698.5 1194.5L699.2 1194.8" stroke="#000" stroke-width="1" fill="none" shape-rendering="auto"/>
<path d="M718.2 1187.8L718.7 1186.4L720.5 1184.5H726.5L728.3 1186.4L728.8 1187.8" stroke="#000" stroke-width="1.15" fill="none" shape-rendering="auto"/>
<path d="M718.8 1194.8L719.5 1194.5L723.5 1190.5L727.5 1194.5L728.2 1194.8" stroke="#000" stroke-width="1" fill="none" shape-rendering="auto"/>
<path d="M747.2 1187.8L747.7 1186.4L749.5 1184.5H755.5L757.3 1186.4L757.8 1187.8" stroke="#000" stroke-width="1.15" fill="none" shape-rendering="auto"/>
<path d="M747.8 1194.8L748.5 1194.5L752.5 1190.5L756.5 1194.5L757.2 1194.8" stroke="#000" stroke-width="1" fill="none" shape-rendering="auto"/>
<path d="M776.2 1187.8L776.7 1186.4L778.5 1184.5H784.5L786.3 1186.4L786.8 1187.8" stroke="#000" stroke-width="1.15" fill="none" shape-rendering="auto"/>
<path d="M776.8 1194.8L777.5 1194.5L781.5 1190.5L785.5 1194.5L786.2 1194.8" stroke="#000" stroke-width="1" fill="none" shape-rendering="auto"/>
<path d="M389.5 1191V1264.5H490.5V1238" stroke="#000" stroke-width="1" fill="none" shape-rendering="crispEdges"/>
<path d="M418.5 1191V1257.5H462.5V1238" stroke="#000" stroke-width="1" fill="none" shape-rendering="crispEdges"/>
<path d="M452 1228L462.5 1238.3" stroke="#000" stroke-width="1.1" fill="none" shape-rendering="auto"/>
<rect x="450" y="1226" width="4" height="4" fill="#000"/>
<rect x="460" y="1236" width="4" height="4" fill="#000"/>
<circle cx="476.5" cy="1242" r="2.3" fill="#000" shape-rendering="auto"/>
<circle cx="490.5" cy="1238" r="2.3" fill="#000" shape-rendering="auto"/>
<path d="M621.5 1191V1214" stroke="#000" stroke-width="1" fill="none" shape-rendering="crispEdges"/>
<path d="M621.5 1199.5H476.5V1214" stroke="#000" stroke-width="1" fill="none" shape-rendering="crispEdges"/>
<circle cx="621.5" cy="1199.5" r="2" fill="#000" shape-rendering="auto"/>
<circle cx="476.3" cy="1213.8" r="2" fill="#000" shape-rendering="auto"/>
<circle cx="621.5" cy="1213.8" r="2" fill="#000" shape-rendering="auto"/>
<path d="M476.3 1213.8L500.5 1227.8" stroke="#000" stroke-width="1.1" fill="none" shape-rendering="auto"/>
<rect x="499" y="1226" width="3.5" height="3.5" fill="#000"/>
<path d="M498.5 1227L492 1225.8L494.3 1221.6Z" fill="#000" stroke="#000" stroke-width="1" shape-rendering="auto"/>
<path d="M497.5 1206.5L491 1213.5M488.8 1216L486.4 1218.8" stroke="#000" stroke-width="1" fill="none" shape-rendering="auto"/>
<line x1="497.5" y1="1206.5" x2="643.5" y2="1206.5" stroke="#000" stroke-width="1" stroke-dasharray="10 3.7"/>
<path d="M643.5 1206.5L632 1219.5" stroke="#000" stroke-width="1" fill="none" shape-rendering="auto"/>
<path d="M621.5 1213.8L645.5 1227.8" stroke="#000" stroke-width="1.1" fill="none" shape-rendering="auto"/>
<rect x="644" y="1226" width="3.5" height="3.5" fill="#000"/>
<path d="M643.5 1227L637 1225.8L639.3 1221.6Z" fill="#000" stroke="#000" stroke-width="1" shape-rendering="auto"/>
<path d="M646 1227.5H665.5V1191" stroke="#000" stroke-width="1" fill="none" shape-rendering="crispEdges"/>
<rect x="595" y="1226" width="4" height="4" fill="#000"/>
<path d="M596.5 1228V1279.5H781.5V1191" stroke="#000" stroke-width="1" fill="none" shape-rendering="crispEdges"/>
<circle cx="607.5" cy="1238" r="2.3" fill="#000" shape-rendering="auto"/>
<path d="M607.5 1238V1271.5H752.5V1191" stroke="#000" stroke-width="1" fill="none" shape-rendering="crispEdges"/>
<circle cx="621.5" cy="1241.8" r="2.3" fill="#000" shape-rendering="auto"/>
<path d="M621.5 1242V1264.5H723.5V1191" stroke="#000" stroke-width="1" fill="none" shape-rendering="crispEdges"/>
<circle cx="635.5" cy="1238" r="2.3" fill="#000" shape-rendering="auto"/>
<path d="M635.5 1238V1257.5H694.5V1191" stroke="#000" stroke-width="1" fill="none" shape-rendering="crispEdges"/>
<text transform="translate(437 1227.7) scale(0.926 1)" text-anchor="start" font-size="9.5">D3</text>
<text transform="translate(454 1244.6) scale(0.926 1)" text-anchor="start" font-size="9.5">D</text>
<text transform="translate(468 1249.4) scale(0.926 1)" text-anchor="start" font-size="9.5">N</text>
<text transform="translate(483 1249) scale(0.926 1)" text-anchor="start" font-size="9.5">R</text>
<text transform="translate(504 1236.3) scale(0.926 1)" text-anchor="start" font-size="9.5">P</text>
<text transform="translate(582.2 1227.7) scale(0.926 1)" text-anchor="start" font-size="9.5">D3</text>
<text transform="translate(599 1244.6) scale(0.926 1)" text-anchor="start" font-size="9.5">D</text>
<text transform="translate(612.5 1249.4) scale(0.926 1)" text-anchor="start" font-size="9.5">N</text>
<text transform="translate(627.5 1249) scale(0.926 1)" text-anchor="start" font-size="9.5">R</text>
<text transform="translate(649.6 1236.3) scale(0.926 1)" text-anchor="start" font-size="9.5">P</text>
<text transform="translate(585.5 1297.6) scale(0.926 1)" text-anchor="middle" font-size="9.5">TRANSMISSION RANGE SWITCH</text>
<text transform="translate(585.5 1308.5) scale(0.926 1)" text-anchor="middle" font-size="9.5">(ON TRANSMISSION)</text>
<text transform="translate(385.5 1160.5) rotate(-90) scale(0.926 1)" text-anchor="start" font-size="9.5">WHT/RED</text>
<text transform="translate(385.5 1183.5) rotate(-90) scale(0.926 1)" text-anchor="start" font-size="9.5">1</text>
<text transform="translate(414 1160.5) rotate(-90) scale(0.926 1)" text-anchor="start" font-size="9.5">YEL/RED</text>
<text transform="translate(414 1183.5) rotate(-90) scale(0.926 1)" text-anchor="start" font-size="9.5">5</text>
<text transform="translate(618 1160.5) rotate(-90) scale(0.926 1)" text-anchor="start" font-size="9.5">BLK</text>
<text transform="translate(618 1183.5) rotate(-90) scale(0.926 1)" text-anchor="start" font-size="9.5">10</text>
<text transform="translate(661 1160.5) rotate(-90) scale(0.926 1)" text-anchor="start" font-size="9.5">BLK/BLU</text>
<text transform="translate(661 1183.5) rotate(-90) scale(0.926 1)" text-anchor="start" font-size="9.5">6</text>
<text transform="translate(690.5 1160.5) rotate(-90) scale(0.926 1)" text-anchor="start" font-size="9.5">WHT</text>
<text transform="translate(690.5 1183.5) rotate(-90) scale(0.926 1)" text-anchor="start" font-size="9.5">7</text>
<text transform="translate(719 1160.5) rotate(-90) scale(0.926 1)" text-anchor="start" font-size="9.5">RED/BLK</text>
<text transform="translate(719 1183.5) rotate(-90) scale(0.926 1)" text-anchor="start" font-size="9.5">2</text>
<text transform="translate(748 1160.5) rotate(-90) scale(0.926 1)" text-anchor="start" font-size="9.5">PNK</text>
<text transform="translate(748 1183.5) rotate(-90) scale(0.926 1)" text-anchor="start" font-size="9.5">8</text>
<text transform="translate(777 1160.5) rotate(-90) scale(0.926 1)" text-anchor="start" font-size="9.5">BLU</text>
<text transform="translate(777 1183.5) rotate(-90) scale(0.926 1)" text-anchor="start" font-size="9.5">3</text>
<text transform="translate(661 1082.5) rotate(-90) scale(0.926 1)" text-anchor="start" font-size="9.5">BLU/BLK</text>
<text transform="translate(748 1082.5) rotate(-90) scale(0.926 1)" text-anchor="start" font-size="9.5">YEL</text>
<text transform="translate(777 1082.5) rotate(-90) scale(0.926 1)" text-anchor="start" font-size="9.5">RED</text>
<text transform="translate(719 538) rotate(-90) scale(0.926 1)" text-anchor="start" font-size="9.5">BLK/RED</text>
<text transform="translate(719 639.5) rotate(-90) scale(0.926 1)" text-anchor="start" font-size="9.5">RED/BLK</text>
</svg>
</body></html>
